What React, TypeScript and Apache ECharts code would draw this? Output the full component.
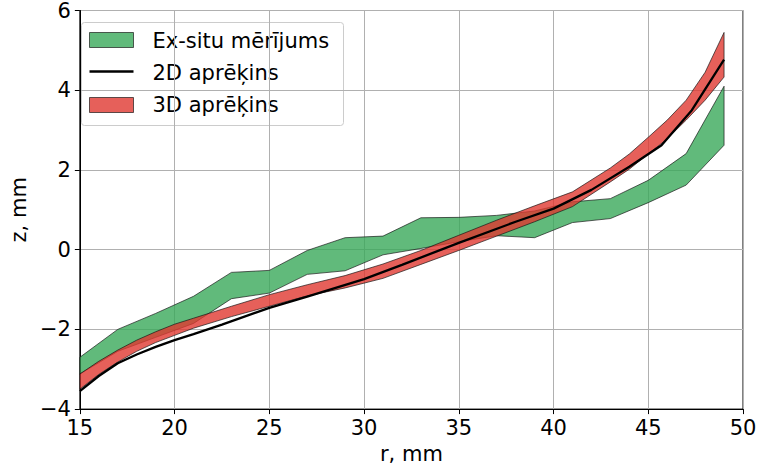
import React, { useEffect, useRef } from "react";
import * as echarts from "echarts";

const xTicks = [15, 20, 25, 30, 35, 40, 45, 50];
const yTicks = [-4, -2, 0, 2, 4, 6];

const greenX = [15, 17, 19, 21, 23, 25, 27, 29, 31, 33, 35, 37, 39, 41, 43, 45, 47, 49];
const greenLow = [-3.12, -2.55, -2.2, -1.85, -1.23, -1.09, -0.62, -0.53, -0.13, 0.03, 0.2, 0.35, 0.3, 0.68, 0.78, 1.18, 1.62, 2.62];
const greenHigh = [-2.7, -2.0, -1.6, -1.17, -0.57, -0.52, -0.02, 0.3, 0.34, 0.8, 0.81, 0.86, 0.97, 1.2, 1.28, 1.74, 2.41, 4.1];

const redX = [15, 16, 17, 18, 19, 20, 21, 23, 25, 27, 29, 31, 33, 35, 37, 39, 41, 43, 44, 45, 46, 47, 48, 49];
const redLow = [-3.5, -3.13, -2.82, -2.55, -2.33, -2.15, -1.97, -1.68, -1.42, -1.16, -0.96, -0.72, -0.37, -0.02, 0.34, 0.7, 1.08, 1.7, 2.02, 2.4, 2.78, 3.25, 3.75, 4.33];
const redHigh = [-3.12, -2.8, -2.52, -2.27, -2.06, -1.87, -1.72, -1.42, -1.13, -0.88, -0.65, -0.36, -0.02, 0.36, 0.74, 1.1, 1.45, 2.05, 2.4, 2.82, 3.25, 3.75, 4.45, 5.45];

const line2dX = [15, 16, 17, 18, 19, 20, 21, 22.5, 25, 27, 30, 32, 35, 38, 40, 42, 44, 45.7, 47.3, 49];
const line2dY = [-3.55, -3.17, -2.85, -2.63, -2.44, -2.27, -2.12, -1.88, -1.46, -1.18, -0.74, -0.38, 0.17, 0.7, 1.03, 1.5, 2.08, 2.62, 3.5, 4.77];

const legendNames = ["Ex-situ mērījums", "2D aprēķins", "3D aprēķins"];

const FONT = "DejaVu Sans";
const FS = 21;
const GREEN = "rgba(57,169,90,0.8)";
const RED = "rgba(224,56,49,0.8)";
const EDGE = "rgba(20,20,20,0.75)";

function bandSeries(name: string, xs: number[], lo: number[], hi: number[], fill: string, z: number) {
  return {
    type: "custom",
    name,
    z,
    clip: true,
    encode: { x: 0, y: [1, 2] },
    data: xs.map((x, i) => [x, lo[i], hi[i]]),
    renderItem: (params: any, api: any) => {
      if (params.dataIndex !== 0) return null;
      const top = xs.map((x, i) => api.coord([x, hi[i]]));
      const bottom = xs.map((x, i) => api.coord([x, lo[i]])).reverse();
      return {
        type: "polygon",
        shape: { points: top.concat(bottom) },
        style: { fill, stroke: EDGE, lineWidth: 0.9 },
      };
    },
  };
}

export default function App() {
  const ref = useRef<HTMLDivElement>(null);
  useEffect(() => {
    if (!ref.current) return;
    const chart = echarts.init(ref.current, null, { renderer: "svg" });
    const fmt = (v: number) => String(v).replace("-", "\u2212");
    chart.setOption({
      animation: false,
      textStyle: { fontFamily: FONT },
      grid: {
        left: 70,
        right: 17,
        top: 10,
        bottom: 58,
        show: true,
        borderColor: "#000",
        borderWidth: 1,
        backgroundColor: "transparent",
      },
      xAxis: {
        type: "value",
        min: xTicks[0],
        max: xTicks[xTicks.length - 1],
        interval: 5,
        name: "r, mm",
        nameLocation: "middle",
        nameGap: 33,
        nameTextStyle: { fontFamily: FONT, fontSize: FS, color: "#000" },
        axisLine: { show: true, onZero: false, lineStyle: { color: "#000", width: 1 } },
        axisTick: { show: true, length: 5, lineStyle: { color: "#000" } },
        axisLabel: { fontFamily: FONT, fontSize: FS, color: "#000", margin: 8, formatter: fmt },
        splitLine: { show: true, lineStyle: { color: "#b0b0b0", width: 1 } },
      },
      yAxis: {
        type: "value",
        min: yTicks[0],
        max: yTicks[yTicks.length - 1],
        interval: 2,
        name: "z, mm",
        nameLocation: "middle",
        nameGap: 42,
        nameRotate: 90,
        nameTextStyle: { fontFamily: FONT, fontSize: FS, color: "#000" },
        axisLine: { show: true, onZero: false, lineStyle: { color: "#000", width: 1 } },
        axisTick: { show: true, length: 5, lineStyle: { color: "#000" } },
        axisLabel: { fontFamily: FONT, fontSize: FS, color: "#000", margin: 9, formatter: fmt },
        splitLine: { show: true, lineStyle: { color: "#b0b0b0", width: 1 } },
      },
      series: [
        bandSeries(legendNames[0], greenX, greenLow, greenHigh, GREEN, 2),
        bandSeries(legendNames[2], redX, redLow, redHigh, RED, 3),
        {
          type: "line",
          name: legendNames[1],
          z: 4,
          data: line2dX.map((x, i) => [x, line2dY[i]]),
          symbol: "none",
          lineStyle: { color: "#000", width: 2.3 },
        },
      ],
      graphic: [
        {
          type: "group",
          left: 81,
          top: 22,
          z: 100,
          children: [
            {
              type: "rect",
              shape: { x: 0, y: 0, width: 262, height: 103, r: 3 },
              style: { fill: "rgba(255,255,255,0.8)", stroke: "#cccccc", lineWidth: 1 },
            },
            {
              type: "rect",
              shape: { x: 8, y: 10, width: 44, height: 15 },
              style: { fill: GREEN, stroke: EDGE, lineWidth: 0.9 },
            },
            {
              type: "text",
              x: 71,
              y: 18,
              style: { text: legendNames[0], fontFamily: FONT, fontSize: FS, fill: "#000", verticalAlign: "middle" },
            },
            {
              type: "line",
              shape: { x1: 8, y1: 49, x2: 52, y2: 49 },
              style: { stroke: "#000", lineWidth: 2.3 },
            },
            {
              type: "text",
              x: 71,
              y: 50,
              style: { text: legendNames[1], fontFamily: FONT, fontSize: FS, fill: "#000", verticalAlign: "middle" },
            },
            {
              type: "rect",
              shape: { x: 8, y: 75, width: 44, height: 15 },
              style: { fill: RED, stroke: EDGE, lineWidth: 0.9 },
            },
            {
              type: "text",
              x: 71,
              y: 82,
              style: { text: legendNames[2], fontFamily: FONT, fontSize: FS, fill: "#000", verticalAlign: "middle" },
            },
          ],
        },
      ],
    });
    return () => chart.dispose();
  }, []);
  return (
    <div
      ref={ref}
      style={{ position: "absolute", left: 0, top: 0, width: 760, height: 469 }}
    />
  );
}
